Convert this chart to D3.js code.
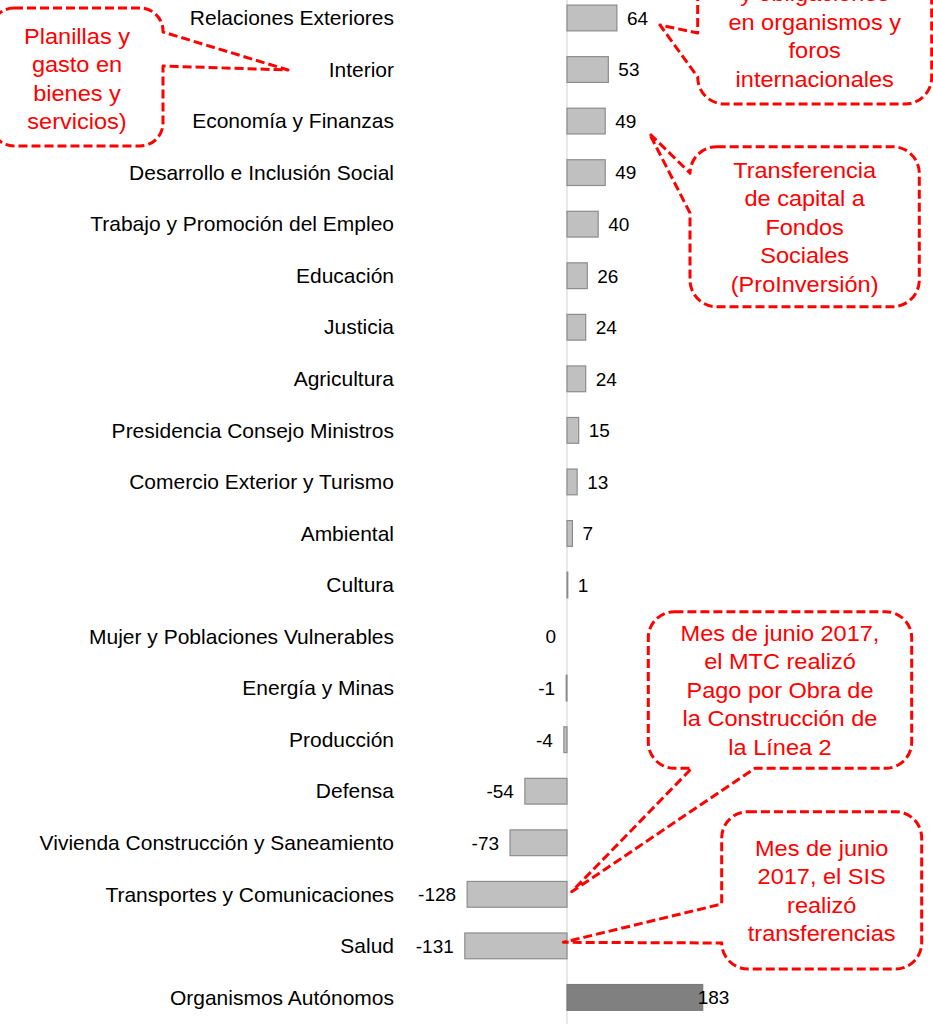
<!DOCTYPE html>
<html>
<head>
<meta charset="utf-8">
<script src="https://cdn.jsdelivr.net/npm/d3@7"></script>
<style>
  html, body { margin: 0; padding: 0; background: #fff; }
  svg { display: block; font-family: "Liberation Sans", Arial, sans-serif; }
</style>
</head>
<body>
<svg width="933" height="1024"></svg>
<script>
// categorías (pliegos) y variación en millones de soles
const categories = [
  "Relaciones Exteriores", "Interior", "Economía y Finanzas",
  "Desarrollo e Inclusión Social", "Trabajo y Promoción del Empleo",
  "Educación", "Justicia", "Agricultura", "Presidencia Consejo Ministros",
  "Comercio Exterior y Turismo", "Ambiental", "Cultura",
  "Mujer y Poblaciones Vulnerables", "Energía y Minas", "Producción",
  "Defensa", "Vivienda Construcción y Saneamiento",
  "Transportes y Comunicaciones", "Salud", "Organismos Autónomos"
];
const values = [64, 53, 49, 49, 40, 26, 24, 24, 15, 13, 7, 1, 0, -1, -4, -54, -73, -128, -131, 183];
const highlighted = ["Organismos Autónomos"];

// textos de los globos
const noteInterior = ["Planillas y", "gasto en", "bienes y", "servicios)"];
const noteRREE = ["y obligaciones", "en organismos y", "foros", "internacionales"];
const noteMEF = ["Transferencia", "de capital a", "Fondos", "Sociales", "(ProInversión)"];
const noteMTC = ["Mes de junio 2017,", "el MTC realizó", "Pago por Obra de", "la Construcción de", "la Línea 2"];
const noteSIS = ["Mes de junio", "2017, el SIS", "realizó", "transferencias"];

const width = 933, height = 1024;
const svg = d3.select('svg');

const x = d3.scaleLinear()
  .domain([-200, 174])
  .range([411, 702.7])
  .clamp(true);

const y = d3.scaleBand()
  .domain(categories)
  .range([-7.8, 1023.2])
  .paddingInner(0.5)
  .paddingOuter(0.25);

const data = categories.map((c, i) => ({cat: c, val: values[i]}));
const midY = d => y(d.cat) + y.bandwidth() / 2;

// linea del cero
svg.append('line')
  .attr('x1', x(0)).attr('x2', x(0))
  .attr('y1', 0).attr('y2', height)
  .attr('stroke', '#d9d9d9')
  .attr('stroke-width', 1.2);

// barras
svg.append('g').selectAll('rect')
  .data(data)
  .join('rect')
  .attr('x', d => Math.min(x(0), x(d.val)))
  .attr('y', d => y(d.cat))
  .attr('width', d => Math.abs(x(d.val) - x(0)))
  .attr('height', y.bandwidth())
  .attr('fill', d => highlighted.includes(d.cat) ? '#808080' : '#c0c0c0')
  .attr('stroke', d => highlighted.includes(d.cat) ? '#7a7a7a' : '#8c8c8c')
  .attr('stroke-width', 1.2);

// etiquetas de categoría (un poco ensanchadas como en el original)
svg.append('g').selectAll('text')
  .data(data)
  .join('text')
  .attr('transform', d => `translate(394,${midY(d)}) scale(1.05,1)`)
  .attr('dy', '0.36em')
  .attr('text-anchor', 'end')
  .attr('font-size', 20)
  .attr('fill', '#000')
  .text(d => d.cat);

// etiquetas de valor
const xMax = x.domain()[1];
svg.append('g').selectAll('text')
  .data(data)
  .join('text')
  .attr('x', d => {
    if (d.val > xMax) return x(xMax) - 5;
    if (d.val > 0) return x(d.val) + 10;
    return x(d.val) - 11;
  })
  .attr('y', midY)
  .attr('dy', '0.36em')
  .attr('text-anchor', d => d.val > 0 ? 'start' : 'end')
  .attr('font-size', 19)
  .attr('fill', '#000')
  .text(d => d.val);

// globo con punta: box {x0,y0,x1,y1}, side = lado de la punta, a1/a2 = base, tip = punta
function calloutPath(b, side, a1, a2, tip) {
  const r = Math.min(b.x1 - b.x0, b.y1 - b.y0) / 6;
  const p = d3.path();
  p.moveTo(b.x0 + r, b.y0);
  p.lineTo(b.x1 - r, b.y0);
  p.arcTo(b.x1, b.y0, b.x1, b.y0 + r, r);
  if (side === 'right') {
    p.lineTo(b.x1, a1); p.lineTo(tip[0], tip[1]); p.lineTo(b.x1, a2);
  }
  p.lineTo(b.x1, b.y1 - r);
  p.arcTo(b.x1, b.y1, b.x1 - r, b.y1, r);
  if (side === 'bottom') {
    p.lineTo(a1, b.y1); p.lineTo(tip[0], tip[1]); p.lineTo(a2, b.y1);
  }
  p.lineTo(b.x0 + r, b.y1);
  p.arcTo(b.x0, b.y1, b.x0, b.y1 - r, r);
  if (side === 'left') {
    p.lineTo(b.x0, a1); p.lineTo(tip[0], tip[1]); p.lineTo(b.x0, a2);
  }
  p.lineTo(b.x0, b.y0 + r);
  p.arcTo(b.x0, b.y0, b.x0 + r, b.y0, r);
  p.closePath();
  return p.toString();
}

function callout(b, side, a1, a2, tip, lines, firstY) {
  const g = svg.append('g');
  const cx = (b.x0 + b.x1) / 2;
  g.append('path')
    .attr('d', calloutPath(b, side, a1, a2, tip))
    .attr('fill', '#fff')
    .attr('stroke', '#ff0000')
    .attr('stroke-width', 3)
    .attr('stroke-dasharray', '9,4')
    .attr('stroke-linejoin', 'round');
  g.selectAll('text')
    .data(lines)
    .join('text')
    .attr('transform', (d, i) => `translate(${cx},${firstY + i * 28.5}) scale(1.07,1)`)
    .attr('dy', '0.36em')
    .attr('text-anchor', 'middle')
    .attr('font-size', 22)
    .attr('fill', '#ff0000')
    .text(d => d);
}

callout({x0: -9, y0: 8, x1: 163, y1: 146}, 'right', 32, 66, [288, 70], noteInterior, 36);
callout({x0: 697.7, y0: -56, x1: 931.7, y1: 104}, 'left', 77, 33, [660, 25], noteRREE, -6.7);
callout({x0: 690, y0: 146.7, x1: 919.3, y1: 306.7}, 'left', 213, 173, [649.3, 133.3], noteMEF, 170);
callout({x0: 648.3, y0: 611.7, x1: 911.7, y1: 768.3}, 'bottom', 755, 691.7, [571.7, 891.7], noteMTC, 633);
callout({x0: 721.7, y0: 811.7, x1: 921.7, y1: 969}, 'left', 943, 904, [563.3, 942.3], noteSIS, 848);
</script>
</body>
</html>
